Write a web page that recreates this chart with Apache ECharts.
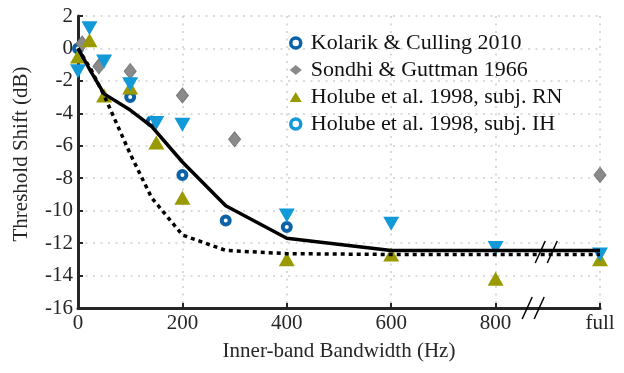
<!DOCTYPE html>
<html>
<head>
<meta charset="utf-8">
<script src="https://cdn.jsdelivr.net/npm/echarts@6/dist/echarts.min.js"></script>
<style>
  html, body { margin: 0; padding: 0; background: #fff; }
  #chart { width: 624px; height: 373px; }
</style>
</head>
<body>
<div id="chart"></div>
<script>
// values, x in Hz (1000 = "full"), y in dB
var kolarik = [[0, 0], [100, -3.0], [141, -4.5], [200, -7.8], [283, -10.6], [400, -11.0]];
var sondhi = [[8, 0.3], [40, -1.1], [100, -1.4], [200, -2.9], [300, -5.6], [1000, -7.8]];
var holubeRN = [[0, -0.5], [22, 0.5], [50, -2.9], [100, -2.4], [150, -5.8], [200, -9.2],
                [400, -13.0], [600, -12.7], [800, -14.2], [1000, -13.0]];
var holubeIH = [[0, -1.4], [22, 1.25], [50, -0.8], [100, -2.2], [150, -4.6], [200, -4.7],
                [400, -10.3], [600, -10.8], [800, -12.3], [1000, -12.7]];
var modelSolid = [[0, 0], [25, -1.45], [50, -2.8], [100, -3.8], [141, -4.8], [200, -7.0],
                  [283, -9.7], [400, -11.7], [600, -12.45], [800, -12.45], [1000, -12.45]];
var modelDotted = [[0, 0], [25, -1.3], [50, -2.9], [100, -6.5], [141, -9.2], [200, -11.5],
                   [283, -12.45], [400, -12.65], [600, -12.7], [800, -12.7], [1000, -12.7]];
var breakX = 872, lineBreakX = 897;

var font = 'Liberation Serif';
var ink = '#262626';
var cKol = '#0b62a6', cSon = '#8a8a8a', cRN = '#999900', cIH = '#1199d8';

var chart = echarts.init(document.getElementById('chart'));
var splitStyle = { color: '#cfcfcf', width: 1.6, type: [2, 5.5] };

chart.setOption({
  animation: false,
  grid: { left: 78, right: 24, top: 16, bottom: 65 },
  legend: {
    left: 284, top: 27, orient: 'vertical',
    itemWidth: 12, itemHeight: 10, itemGap: 5,
    textStyle: { fontFamily: font, fontSize: 22, color: '#111', lineHeight: 22, padding: [0, 0, 0, 4] },
    data: [
      { name: 'Kolarik & Culling 2010', icon: 'circle',
        itemStyle: { color: '#fff', borderColor: cKol, borderWidth: 3.5 } },
      { name: 'Sondhi & Guttman 1966', icon: 'diamond',
        itemStyle: { color: cSon, borderWidth: 0 } },
      { name: 'Holube et al. 1998, subj. RN', icon: 'triangle',
        itemStyle: { color: cRN, borderWidth: 0 } },
      { name: 'Holube et al. 1998, subj. IH', icon: 'circle',
        itemStyle: { color: '#fff', borderColor: cIH, borderWidth: 3.5 } }
    ]
  },
  xAxis: {
    type: 'value', min: 0, max: 1000, interval: 200,
    name: 'Inner-band Bandwidth (Hz)', nameLocation: 'middle', nameGap: 33,
    nameTextStyle: { fontFamily: font, fontSize: 21, color: ink },
    axisLine: { onZero: false, lineStyle: { color: ink, width: 3 } },
    axisTick: { inside: true, length: 5, lineStyle: { color: ink, width: 2 } },
    axisLabel: {
      fontFamily: font, fontSize: 21, color: ink, margin: 5,
      formatter: function (v) { return v === 1000 ? 'full' : String(v); }
    },
    splitLine: { show: true, lineStyle: splitStyle }
  },
  yAxis: {
    type: 'value', min: -16, max: 2, interval: 2,
    name: 'Threshold Shift (dB)', nameLocation: 'middle', nameGap: 46,
    nameTextStyle: { fontFamily: font, fontSize: 21, color: ink, padding: [0, 0, 0, 16] },
    axisLine: { show: true, onZero: false, lineStyle: { color: ink, width: 3 } },
    axisTick: { show: true, inside: true, length: 5, lineStyle: { color: ink, width: 2 } },
    axisLabel: { fontFamily: font, fontSize: 21, color: ink, margin: 5 },
    splitLine: { show: true, lineStyle: splitStyle }
  },
  series: [
    { name: 'Kolarik & Culling 2010', type: 'scatter', data: kolarik,
      symbol: 'circle', symbolSize: 8,
      itemStyle: { color: '#fff', borderColor: cKol, borderWidth: 4, opacity: 1 } },
    { name: 'Sondhi & Guttman 1966', type: 'scatter', data: sondhi,
      symbol: 'diamond', symbolSize: [12, 15],
      itemStyle: { color: cSon, borderColor: '#7a7a7a', borderWidth: 1, opacity: 1 } },
    { name: 'Holube et al. 1998, subj. RN', type: 'scatter', data: holubeRN,
      symbol: 'triangle', symbolSize: [16, 14],
      itemStyle: { color: cRN, opacity: 1 } },
    { name: 'Holube et al. 1998, subj. IH', type: 'scatter', data: holubeIH,
      symbol: 'triangle', symbolRotate: 180, symbolSize: [16, 14],
      itemStyle: { color: cIH, opacity: 1 } },
    { type: 'line', data: modelDotted, showSymbol: false, z: 4, silent: true,
      lineStyle: { color: '#000', width: 3.5, type: [4, 4], cap: 'butt' } },
    { type: 'line', data: modelSolid, showSymbol: false, z: 4, silent: true,
      lineStyle: { color: '#000', width: 3.5 } }
  ]
});

// axis break marks "//"
function slashes(xv, yv) {
  var p = chart.convertToPixel({ gridIndex: 0 }, [xv, yv]);
  var out = [];
  [-6, 6].forEach(function (dx) {
    out.push({
      type: 'line', z: 100,
      shape: { x1: p[0] + dx - 5, y1: p[1] + 11, x2: p[0] + dx + 5, y2: p[1] - 11 },
      style: { stroke: '#000', lineWidth: 1.5 }
    });
  });
  return out;
}
chart.setOption({
  graphic: slashes(breakX, -16).concat(slashes(lineBreakX, -12.55))
});
</script>
</body>
</html>
